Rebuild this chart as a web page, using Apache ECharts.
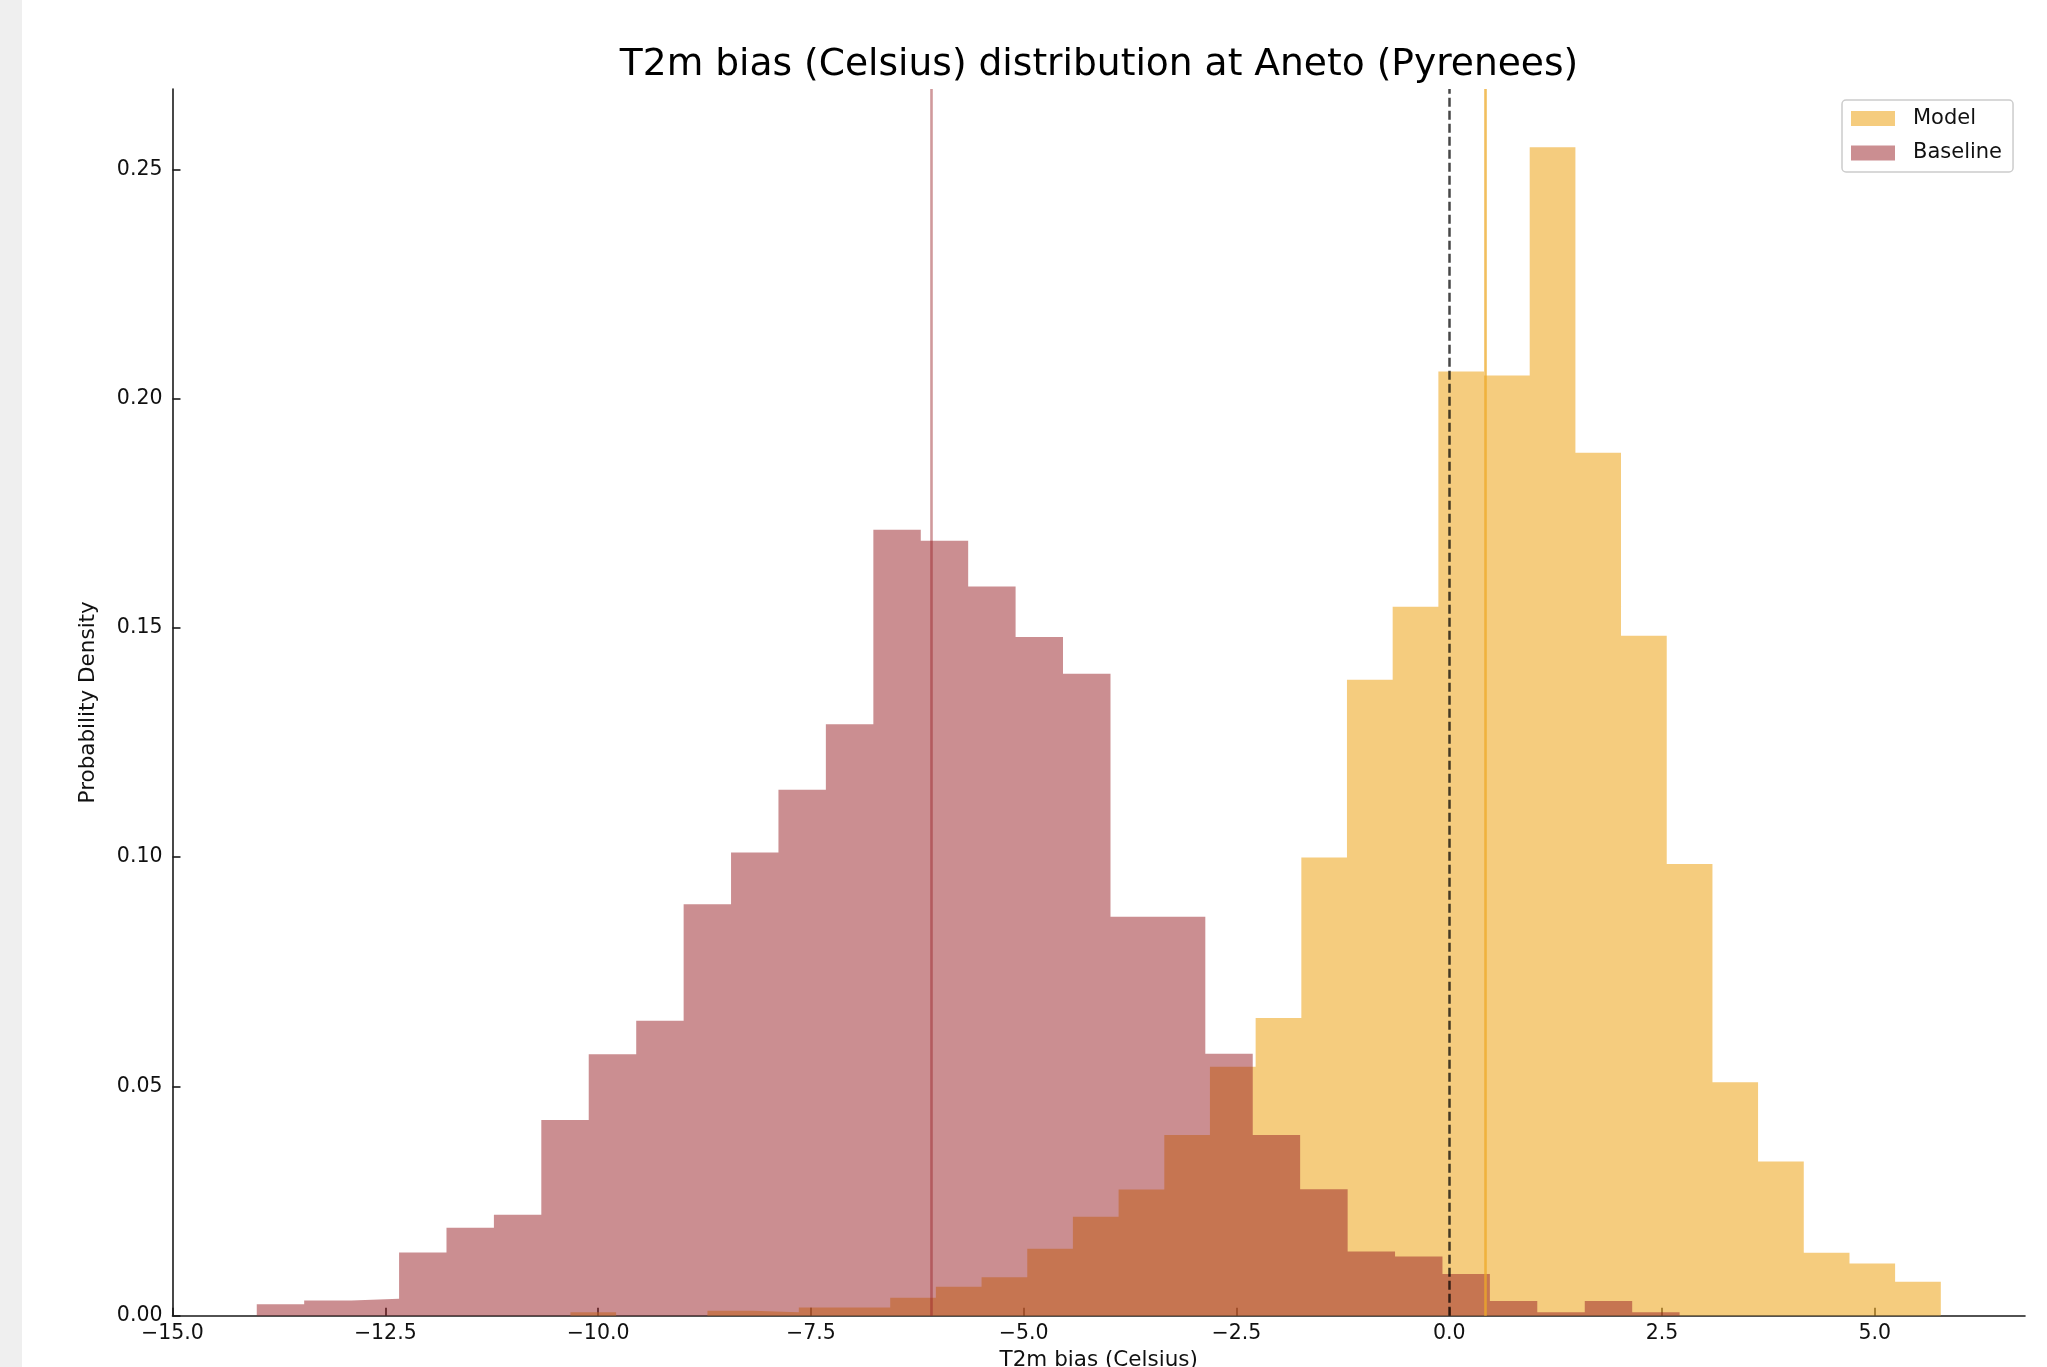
<!DOCTYPE html>
<html>
<head>
<meta charset="utf-8">
<script src="https://cdn.jsdelivr.net/npm/echarts@6/dist/echarts.min.js"></script>
<style>
html, body { margin: 0; padding: 0; background: #ffffff; }
#chart { width: 2047px; height: 1367px; }
</style>
</head>
<body>
<div id="chart"></div>
<script>
// ---------------- data ----------------
const chartTitle = 'T2m bias (Celsius) distribution at Aneto (Pyrenees)';
const xAxisName = 'T2m bias (Celsius)';
const yAxisName = 'Probability Density';
const seriesNames = ['Model', 'Baseline'];

// histogram bin edges (Celsius) and densities
const modelBinEdges = [-10.325, -9.788, -9.252, -8.715, -8.178, -7.642, -7.105, -6.568, -6.032, -5.495,
  -4.958, -4.422, -3.885, -3.348, -2.812, -2.275, -1.738, -1.202, -0.665, -0.128,
  0.408, 0.945, 1.482, 2.018, 2.555, 3.092, 3.628, 4.165, 4.702, 5.238, 5.775];
const modelDensity = [0.00074, 0, 0, 0.0011, 0.00074, 0.0018, 0.0018, 0.0039, 0.0063, 0.0084,
  0.0146, 0.0216, 0.0275, 0.0394, 0.0543, 0.0649, 0.0999, 0.1387, 0.1546, 0.2059,
  0.2050, 0.2548, 0.1882, 0.1483, 0.0985, 0.0509, 0.0336, 0.0137, 0.0114, 0.0074];

const baselineBinEdges = [-14.01, -13.453, -12.896, -12.338, -11.781, -11.224, -10.667, -10.110, -9.552, -8.995,
  -8.438, -7.881, -7.324, -6.766, -6.209, -5.652, -5.095, -4.538, -3.980, -3.423,
  -2.866, -2.309, -1.752, -1.194, -0.637, -0.080, 0.477, 1.034, 1.592, 2.149, 2.706];
const baselineDensity = [0.0025, 0.0033, 0.0037, 0.0138, 0.0192, 0.0220, 0.0427, 0.0570, 0.0643, 0.0897,
  0.1010, 0.1147, 0.1290, 0.1714, 0.1690, 0.1590, 0.1480, 0.1400, 0.0870, 0.0870,
  0.0571, 0.0394, 0.0276, 0.0140, 0.0129, 0.0091, 0.0032, 0.00074, 0.0032, 0.00074];

const modelMean = 0.42;
const baselineMean = -6.09;
const zeroBias = 0;

const xTicks = [-15, -12.5, -10, -7.5, -5, -2.5, 0, 2.5, 5];
const yTicks = [0, 0.05, 0.10, 0.15, 0.20, 0.25];
const xRange = [-15.0, 6.764];
const yRange = [0, 0.2675];

// ---------------- style ----------------
const FONT = 'DejaVu Sans';
const modelFill = 'rgba(238,170,40,0.6)';
const baselineFill = 'rgba(151,29,35,0.5)';
const axisColor = '#1a1a1a';
const textColor = '#111111';

function histSteps(edges, dens) {
  return edges.map((e, i) => [e, dens[Math.min(i, dens.length - 1)]]);
}
function fmtX(v) { return v.toFixed(1).replace('-', '\u2212'); }
function fmtY(v) { return v.toFixed(2); }

const chart = echarts.init(document.getElementById('chart'), null, { renderer: 'canvas' });

const option = {
  animation: false,
  backgroundColor: '#ffffff',
  textStyle: { fontFamily: FONT },
  graphic: [{
    type: 'rect', left: 0, top: 0, z: -10, silent: true,
    shape: { width: 22, height: 1367 },
    style: { fill: '#efefef' }
  }],
  title: {
    text: chartTitle,
    left: 1099, top: 46, padding: 0,
    textAlign: 'center',
    textStyle: { fontFamily: FONT, fontSize: 37.6, fontWeight: 'normal', color: '#000000' }
  },
  legend: {
    orient: 'vertical',
    left: 1842, top: 100,
    padding: [8, 11, 8.5, 9],
    itemWidth: 44, itemHeight: 15, itemGap: 13.5,
    borderColor: '#cccccc', borderWidth: 1.5, borderRadius: 4,
    backgroundColor: 'rgba(255,255,255,0.8)',
    selectedMode: false,
    textStyle: { fontFamily: FONT, fontSize: 21, color: textColor, padding: [0, 0, 0, 13], lineHeight: 21 },
    data: [
      { name: seriesNames[0], icon: 'rect', itemStyle: { color: modelFill, borderWidth: 0 } },
      { name: seriesNames[1], icon: 'rect', itemStyle: { color: baselineFill, borderWidth: 0 } }
    ]
  },
  grid: { left: 172.5, right: 22, top: 89, bottom: 51.3, containLabel: false, outerBoundsMode: 'none' },
  xAxis: {
    type: 'value',
    min: xRange[0], max: xRange[1],
    name: xAxisName, nameLocation: 'middle', nameGap: 34,
    nameTextStyle: { fontFamily: FONT, fontSize: 21.5, color: textColor },
    axisLine: { show: true, onZero: false, lineStyle: { color: axisColor, width: 1.6 } },
    axisTick: { show: true, inside: true, length: 8, customValues: xTicks, lineStyle: { color: axisColor, width: 1.6 } },
    axisLabel: { show: true, customValues: xTicks, formatter: fmtX, margin: 7, fontFamily: FONT, fontSize: 20.5, color: textColor },
    splitLine: { show: false }
  },
  yAxis: {
    type: 'value',
    min: yRange[0], max: yRange[1],
    name: yAxisName, nameLocation: 'middle', nameGap: 73, nameRotate: 90,
    nameTextStyle: { fontFamily: FONT, fontSize: 21.5, color: textColor },
    axisLine: { show: true, onZero: false, lineStyle: { color: axisColor, width: 1.6 } },
    axisTick: { show: true, inside: true, length: 8, customValues: yTicks, lineStyle: { color: axisColor, width: 1.6 } },
    axisLabel: { show: true, customValues: yTicks, formatter: fmtY, margin: 10, fontFamily: FONT, fontSize: 20.5, color: textColor },
    splitLine: { show: false }
  },
  series: [
    {
      name: seriesNames[0],
      type: 'line',
      step: 'end',
      symbol: 'none',
      data: histSteps(modelBinEdges, modelDensity),
      lineStyle: { width: 0, color: modelFill },
      itemStyle: { color: modelFill },
      areaStyle: { color: modelFill, opacity: 1 },
      z: 2,
      silent: true,
      markLine: {
        silent: true, symbol: 'none', label: { show: false }, animation: false,
        emphasis: { disabled: true },
        data: [{ xAxis: modelMean, lineStyle: { color: 'rgba(238,170,40,0.75)', width: 2.6, type: 'solid' } }]
      }
    },
    {
      name: seriesNames[1],
      type: 'line',
      step: 'end',
      symbol: 'none',
      data: histSteps(baselineBinEdges, baselineDensity),
      lineStyle: { width: 0, color: baselineFill },
      itemStyle: { color: baselineFill },
      areaStyle: { color: baselineFill, opacity: 1 },
      z: 3,
      silent: true,
      markLine: {
        silent: true, symbol: 'none', label: { show: false }, animation: false,
        emphasis: { disabled: true },
        data: [
          { xAxis: baselineMean, lineStyle: { color: 'rgba(151,29,35,0.45)', width: 2.6, type: 'solid' } },
          { xAxis: zeroBias, lineStyle: { color: 'rgba(0,0,0,0.72)', width: 2.5, type: [9, 4] } }
        ]
      }
    }
  ]
};

chart.setOption(option);
</script>
</body>
</html>
